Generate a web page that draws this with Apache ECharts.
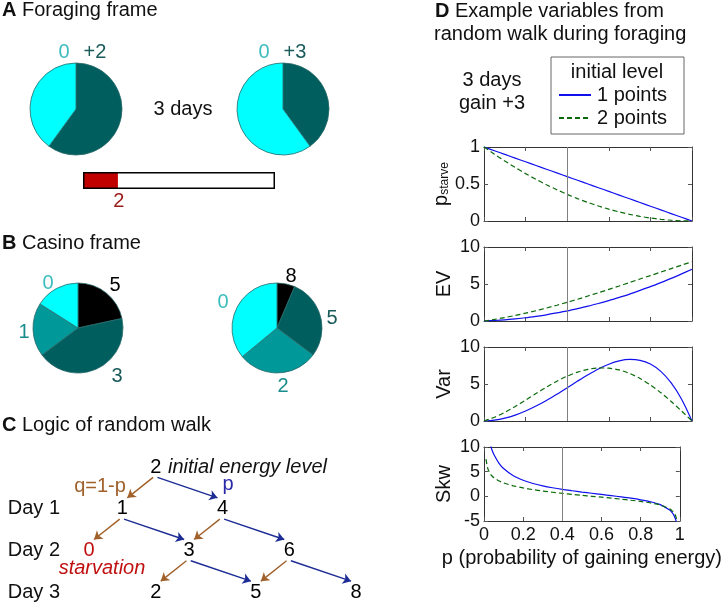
<!DOCTYPE html>
<html><head><meta charset="utf-8">
<script src="https://cdn.jsdelivr.net/npm/echarts@6/dist/echarts.min.js"></script>
<style>html,body{margin:0;padding:0;background:#fff}#c{width:724px;height:603px}</style>
</head><body><div id="c"></div>
<script>
// ---------------- DATA ----------------
// Panel A: foraging frame pies (probability of each outcome)
const forageLeftNames = ['+2', '0'];
const forageLeftProb = [0.6, 0.4];
const forageRightNames = ['+3', '0'];
const forageRightProb = [0.4, 0.6];
// Panel A: energy bar
const barLevel = 2;
const barMax = 11;
// Panel B: casino frame pies
const casinoLeftNames = ['5', '3', '1', '0'];
const casinoLeftProb = [0.216, 0.432, 0.192, 0.16];
const casinoRightNames = ['8', '5', '2', '0'];
const casinoRightProb = [0.064, 0.288, 0.288, 0.36];
// Panel C: random walk tree (energy level, day)
const treeNodes = [[2,0],[1,1],[4,1],[0,2],[3,2],[6,2],[2,3],[5,3],[8,3]];
const treeEdges = [
  [2,0,1,1,'q'],[2,0,4,1,'p'],
  [1,1,0,2,'q'],[1,1,3,2,'p'],[4,1,3,2,'q'],[4,1,6,2,'p'],
  [3,2,2,3,'q'],[3,2,5,3,'p'],[6,2,5,3,'q'],[6,2,8,3,'p']
];
const dayLabels = ['', 'Day 1', 'Day 2', 'Day 3'];
// Panel D: variables vs p
const pGrid = [0,0.05,0.1,0.15,0.2,0.25,0.3,0.35,0.4,0.45,0.5,0.55,0.6,0.65,0.7,0.75,0.8,0.85,0.9,0.95,1];
const starve1 = [1,0.95,0.9,0.85,0.8,0.75,0.7,0.65,0.6,0.55,0.5,0.45,0.4,0.35,0.3,0.25,0.2,0.15,0.1,0.05,0];
const starve2 = [1,0.903,0.81,0.723,0.64,0.563,0.49,0.423,0.36,0.303,0.25,0.203,0.16,0.123,0.09,0.063,0.04,0.023,0.01,0.003,0];
const ev1 = [0,0.07,0.16,0.29,0.44,0.63,0.84,1.09,1.36,1.67,2.0,2.37,2.76,3.19,3.64,4.13,4.64,5.19,5.76,6.37,7];
const ev2 = [0,0.22,0.47,0.75,1.06,1.39,1.75,2.13,2.53,2.94,3.38,3.82,4.27,4.73,5.2,5.67,6.14,6.61,7.08,7.55,8];
const var1 = [0,0.12,0.39,0.80,1.35,2.02,2.78,3.62,4.50,5.39,6.25,7.03,7.67,8.12,8.32,8.20,7.69,6.70,5.14,2.94,0];
const var2 = [0,0.50,1.17,1.96,2.82,3.71,4.57,5.37,6.06,6.61,6.98,7.17,7.14,6.90,6.43,5.75,4.88,3.83,2.63,1.34,0];
const skwP1 = [0.03,0.04,0.05,0.075,0.1,0.15,0.2,0.25,0.3,0.35,0.4,0.45,0.5,0.55,0.6,0.65,0.7,0.75,0.8,0.85,0.9,0.95,0.96,0.97,0.98,0.99];
const skw1 = [10.74,9.50,8.52,6.79,5.63,4.16,3.25,2.61,2.13,1.74,1.41,1.13,0.86,0.62,0.38,0.14,-0.11,-0.38,-0.70,-1.10,-1.68,-2.82,-3.25,-3.86,-4.86,-7.06];
const skwP2 = [0.01,0.02,0.03,0.04,0.05,0.075,0.1,0.15,0.2,0.25,0.3,0.35,0.4,0.45,0.5,0.55,0.6,0.65,0.7,0.75,0.8,0.85,0.9,0.95,0.96,0.97,0.98,0.99];
const skw2 = [7.53,5.57,4.70,4.17,3.79,3.16,2.73,2.13,1.70,1.36,1.07,0.83,0.60,0.40,0.20,0.01,-0.18,-0.37,-0.57,-0.79,-1.03,-1.34,-1.77,-2.59,-2.91,-3.35,-4.10,-5.80];
const markP = 0.4;
const seriesNames = ['1 points', '2 points'];

// ---------------- STYLE ----------------
const FONT = 'Liberation Sans, Arial, Helvetica, sans-serif';
const CYAN = '#00ffff', MED = '#009898', DARK = '#005e5e', BLACK = '#000000';
const BLUE = '#1010ee', GREEN = '#0a6a0a';
const BROWN = '#a0602a', NAVY = '#1c2c94', RED = '#c00000';

const zip = (xs, ys) => xs.map((x, i) => [x, ys[i]]);

// Panel D grids
const dTops = [147, 247, 347, 447];
const dH = 74;
const dRanges = [[0,1,0.5],[0,10,5],[0,10,5],[-5,10,5]];
const dNames = ['{p|p}{sub|starve}', 'EV', 'Var', 'Skw'];
const dData = [[starve1, starve2, pGrid, pGrid],[ev1, ev2, pGrid, pGrid],[var1, var2, pGrid, pGrid],[skw1, skw2, skwP1, skwP2]];

const grids = [], xAxes = [], yAxes = [], series = [];
const axisCol = '#333';
dTops.forEach((top, i) => {
  grids.push({left: 484, width: 208, top: top, height: dH, show: false});
  const last = i === 3;
  xAxes.push({type:'value', gridIndex:i, min:0, max:1, interval:0.2, position:'bottom',
    axisLine:{show:true, onZero:false, lineStyle:{color:axisCol, width:1}},
    axisTick:{show:true, inside:true, length:4, lineStyle:{color:'#555'}},
    axisLabel:{show:last, fontSize:18, fontFamily:FONT, color:'#111', margin:5,
      formatter: v => String(+v.toFixed(1))},
    splitLine:{show:false},
    name: last ? 'p (probability of gaining energy)' : '', nameLocation:'middle', nameGap:27,
    nameTextStyle:{fontSize:20, fontFamily:FONT, color:'#111'}});
  xAxes.push({type:'value', gridIndex:i, min:0, max:1, interval:0.2, position:'top',
    axisLine:{show:true, onZero:false, lineStyle:{color:axisCol, width:1}},
    axisTick:{show:true, inside:true, length:4, lineStyle:{color:'#555'}},
    axisLabel:{show:false}, splitLine:{show:false}});
  const r = dRanges[i];
  yAxes.push({type:'value', gridIndex:i, min:r[0], max:r[1], interval:r[2], position:'left',
    axisLine:{show:true, onZero:false, lineStyle:{color:axisCol, width:1}},
    axisTick:{show:true, inside:true, length:4, lineStyle:{color:'#555'}},
    axisLabel:{fontSize:18, fontFamily:FONT, color:'#111', margin:4},
    splitLine:{show:false},
    name: dNames[i], nameLocation:'middle', nameRotate:90, nameGap: i === 0 ? 26 : 30,
    nameTextStyle:{fontSize:20, fontFamily:FONT, color:'#111',
      rich:{p:{fontSize:20, fontFamily:FONT, color:'#111', lineHeight:20, verticalAlign:'top'},
            sub:{fontSize:12, fontFamily:FONT, color:'#111', lineHeight:12, padding:[12,0,0,0], verticalAlign:'bottom'}}}});
  yAxes.push({type:'value', gridIndex:i, min:r[0], max:r[1], interval:r[2], position:'right',
    axisLine:{show:true, onZero:false, lineStyle:{color:axisCol, width:1}},
    axisTick:{show:true, inside:true, length:4, lineStyle:{color:'#555'}},
    axisLabel:{show:false}, splitLine:{show:false}});
  const d = dData[i];
  series.push({type:'line', name: seriesNames[0], xAxisIndex: 2*i, yAxisIndex: 2*i,
    data: zip(d[2], d[0]), showSymbol:false, symbol:'none', smooth:0.3, clip:true,
    lineStyle:{color:BLUE, width:1.2, type:'solid'}, itemStyle:{color:BLUE}, z:3,
    markLine:{silent:true, symbol:'none', label:{show:false}, animation:false,
      lineStyle:{color:'#808080', width:1, type:'solid'}, data:[{xAxis: markP}]}});
  series.push({type:'line', name: seriesNames[1], xAxisIndex: 2*i, yAxisIndex: 2*i,
    data: zip(d[3], d[1]), showSymbol:false, symbol:'none', smooth:0.3, clip:true,
    lineStyle:{color:GREEN, width:1.2, type:[5,3]}, itemStyle:{color:GREEN}, z:3});
});

// Panel A bar grid (index 4)
grids.push({left:83, width:192, top:172, height:17, show:false});
xAxes.push({type:'value', gridIndex:4, min:0, max:barMax, show:false});
yAxes.push({type:'category', gridIndex:4, data:['level'], show:false});
series.push({type:'bar', xAxisIndex: xAxes.length-1, yAxisIndex: yAxes.length-1,
  data:[barLevel], barWidth:17, itemStyle:{color:RED},
  label:{show:true, position:['100%','100%'], distance:0, formatter: String(barLevel), fontSize:20, fontFamily:FONT,
    color:'#9a1a1a', align:'center', verticalAlign:'top', offset:[1,2]}, silent:true, animation:false});
series.push({type:'bar', xAxisIndex: xAxes.length-1, yAxisIndex: yAxes.length-1,
  data:[barMax], barWidth:17, barGap:'-100%', itemStyle:{color:'rgba(0,0,0,0)', borderColor:'#000', borderWidth:1.5},
  silent:true, animation:false, z:3});

// Panel C tree grid (index 5)
grids.push({left:89, width:267, top:467, height:125, show:false});
xAxes.push({type:'value', gridIndex:5, min:0, max:8, show:false});
yAxes.push({type:'value', gridIndex:5, min:0, max:3, interval:1, inverse:true,
  axisLine:{show:false}, axisTick:{show:false}, splitLine:{show:false},
  axisLabel:{show:true, margin:29, fontSize:20, fontFamily:FONT, color:'#111', formatter: v => dayLabels[v] || ''}});
const cx = xAxes.length-1, cy = yAxes.length-1;
series.push({type:'lines', coordinateSystem:'cartesian2d', xAxisIndex:cx, yAxisIndex:cy,
  symbol:['none','arrow'], symbolSize:8, animation:false, silent:true,
  data: treeEdges.map(e => {
    const up = e[4] === 'p';
    return {coords:[[e[0] + (up ? 0.05 : -0.08), e[1] + 0.25], [e[2] + (up ? -0.15 : 0.15), e[1] + 0.74]],
      lineStyle:{color: up ? NAVY : BROWN, width:1.4, opacity:1}};
  })});
series.push({type:'scatter', xAxisIndex:cx, yAxisIndex:cy, symbol:'circle', symbolSize:2,
  itemStyle:{color:'rgba(255,255,255,0)'}, silent:true, animation:false, z:5,
  label:{show:true, position:'top', distance:-11, fontSize:20, fontFamily:FONT, color:'#000',
    textBorderWidth:0, opacity:1, formatter: prm => String(prm.value[0])},
  data: treeNodes.map(n => ({value:n, label:{color: n[0] === 0 ? '#c01010' : '#000'}}))});

// Pies
const pieBase = {type:'pie', silent:true, animation:false, label:{show:false}, labelLine:{show:false},
  startAngle:90, clockwise:true, itemStyle:{borderColor:'#2a6a6a', borderWidth:0.8}};
series.push(Object.assign({}, pieBase, {center:[76,109], radius:46,
  data: forageLeftProb.map((v,i) => ({name:forageLeftNames[i], value:v, itemStyle:{color:[DARK, CYAN][i]}}))}));
series.push(Object.assign({}, pieBase, {center:[283,109], radius:46,
  data: forageRightProb.map((v,i) => ({name:forageRightNames[i], value:v, itemStyle:{color:[DARK, CYAN][i]}}))}));
series.push(Object.assign({}, pieBase, {center:[78,328], radius:45,
  data: casinoLeftProb.map((v,i) => ({name:casinoLeftNames[i], value:v, itemStyle:{color:[BLACK, DARK, MED, CYAN][i]}}))}));
series.push(Object.assign({}, pieBase, {center:[277,328], radius:45,
  data: casinoRightProb.map((v,i) => ({name:casinoRightNames[i], value:v, itemStyle:{color:[BLACK, DARK, MED, CYAN][i]}}))}));

// Text annotations
function txt(x, y, text, opt) {
  opt = opt || {};
  return {type:'text', x:x, y:y, silent:true, z:10,
    style:Object.assign({text:text, fontSize:20, fontFamily:FONT, fill:'#111', align:'left', verticalAlign:'middle'}, opt)};
}
const LCYAN = '#3cbcbc', LMED = '#1a8c8c', LDARK = '#1a5a5a';
const boldRich = {b:{fontWeight:'bold', fontSize:20, fontFamily:FONT, fill:'#111'}};
const graphics = [
  txt(2, 10, '{b|A} Foraging frame', {rich:boldRich}),
  txt(2, 243, '{b|B} Casino frame', {rich:boldRich}),
  txt(2, 425, '{b|C} Logic of random walk', {rich:boldRich}),
  txt(435, 11, '{b|D} Example variables from', {rich:boldRich}),
  txt(434, 34, 'random walk during foraging'),
  // A
  txt(64, 52, '0', {align:'center', fill:LCYAN}),
  txt(95, 52, '+2', {align:'center', fill:LDARK}),
  txt(264, 52, '0', {align:'center', fill:LCYAN}),
  txt(295, 52, '+3', {align:'center', fill:LDARK}),
  txt(183, 109, '3 days', {align:'center'}),
  // B
  txt(48, 283, '0', {align:'center', fill:LCYAN}),
  txt(115, 285, '5', {align:'center', fill:'#000'}),
  txt(24, 332, '1', {align:'center', fill:LMED}),
  txt(117, 376, '3', {align:'center', fill:LDARK}),
  txt(223, 302, '0', {align:'center', fill:LCYAN}),
  txt(291, 276, '8', {align:'center', fill:'#000'}),
  txt(332, 318, '5', {align:'center', fill:LDARK}),
  txt(283, 386, '2', {align:'center', fill:LMED}),
  // C
  txt(168, 467, 'initial energy level', {fontStyle:'italic'}),
  txt(100, 486, 'q=1-p', {align:'center', fill:BROWN}),
  txt(228, 484, 'p', {align:'center', fill:'#2a2aa8'}),
  txt(102, 568, 'starvation', {align:'center', fill:'#c01010', fontStyle:'italic'}),
  // D
  txt(492, 80, '3 days', {align:'center'}),
  txt(492, 103, 'gain +3', {align:'center'}),
  {type:'rect', x:551, y:57, shape:{width:133, height:77}, silent:true, z:5,
    style:{fill:'#fff', stroke:'#666', lineWidth:1}},
  txt(617, 72, 'initial level', {align:'center'})
];

const option = {
  animation:false,
  backgroundColor:'#fff',
  textStyle:{fontFamily:FONT},
  grid: grids, xAxis: xAxes, yAxis: yAxes, series: series,
  legend:{show:true, orient:'vertical', left:558, top:85, itemWidth:32, itemHeight:12, itemGap:3,
    padding:0, z:20, selectedMode:false, itemStyle:{opacity:0},
    textStyle:{fontSize:20, fontFamily:FONT, color:'#111', padding:[0,0,0,1]},
    data: seriesNames},
  graphic: graphics
};
const chart = echarts.init(document.getElementById('c'), null, {renderer:'canvas'});
chart.setOption(option);
</script></body></html>
